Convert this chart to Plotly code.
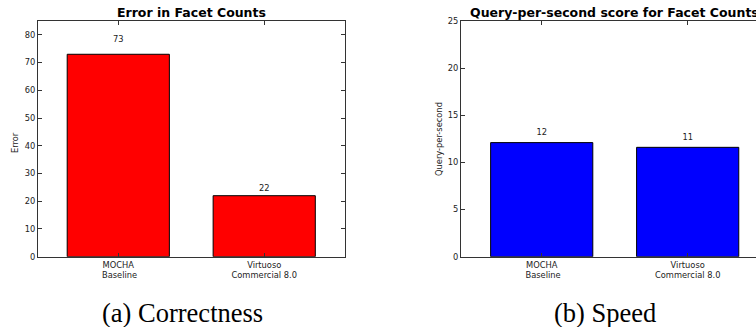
import plotly.graph_objects as go

W, H = 756, 327

categories = ["MOCHA<br> Baseline", "Virtuoso<br>Commercial 8.0"]
error_values = [73, 22]
qps_values = [12.1, 11.6]
error_yticks = [0, 10, 20, 30, 40, 50, 60, 70, 80]
qps_yticks = [0, 5, 10, 15, 20, 25]

# observed rendering maps paper vertically onto pixels ~5..322
TOP_OFF, PAPER_H = 5.0, 317.0

def px_x(p):
    return p / W

def px_y(p):
    return 1 - (p - TOP_OFF) / PAPER_H

FONT = "DejaVu Sans"
SMALL = 8.3
AX = "#333333"
fig = go.Figure()

xs = list(range(len(categories)))

fig.add_trace(go.Bar(x=xs, y=error_values, width=0.7, marker=dict(color="#ff0000", line=dict(color="#000000", width=1)),
                     xaxis="x", yaxis="y", showlegend=False, hoverinfo="skip"))
fig.add_trace(go.Scatter(x=xs, y=[1.05 * v for v in error_values], text=["%d" % int(v) for v in error_values],
                         mode="text", textposition="top center", textfont=dict(family=FONT, size=SMALL, color="#222"),
                         xaxis="x", yaxis="y", showlegend=False, hoverinfo="skip", cliponaxis=False))
fig.add_trace(go.Bar(x=xs, y=qps_values, width=0.7, marker=dict(color="#0000ff", line=dict(color="#000000", width=1)),
                     xaxis="x2", yaxis="y2", showlegend=False, hoverinfo="skip"))
fig.add_trace(go.Scatter(x=xs, y=[1.05 * v for v in qps_values], text=["%d" % int(v) for v in qps_values],
                         mode="text", textposition="top center", textfont=dict(family=FONT, size=SMALL, color="#222"),
                         xaxis="x2", yaxis="y2", showlegend=False, hoverinfo="skip", cliponaxis=False))

ydom = [px_y(256.7), px_y(21)]
common_x = dict(tickmode="array", tickvals=xs, ticktext=categories, ticks="inside", ticklen=4, tickcolor=AX,
                showline=True, linecolor=AX, linewidth=1, showgrid=False, zeroline=False,
                tickfont=dict(family=FONT, size=SMALL, color="#222"))
common_y = dict(ticks="inside", ticklen=4, tickcolor=AX, showline=True, linecolor=AX, linewidth=1,
                showgrid=False, zeroline=False, tickfont=dict(family=FONT, size=SMALL, color="#222"))

fig.update_layout(
    width=W, height=H, margin=dict(l=0, r=0, t=0, b=0),
    paper_bgcolor="white", plot_bgcolor="white",
    xaxis=dict(domain=[px_x(38), px_x(344.5)], range=[-0.55, 1.55], anchor="y", mirror="ticks", **common_x),
    yaxis=dict(domain=ydom, range=[0, 85], tickvals=error_yticks, anchor="x", mirror="ticks", **common_y),
    xaxis2=dict(domain=[px_x(461), 1.0], range=[-0.553, 1.468], anchor="y2", mirror="ticks", **common_x),
    yaxis2=dict(domain=ydom, range=[0, 25], tickvals=qps_yticks, anchor="x2", mirror=False, **common_y),
    annotations=[
        dict(text="<b>Error in Facet Counts</b>", x=px_x(191), y=px_y(13), xref="paper", yref="paper",
             showarrow=False, font=dict(family=FONT, size=12.5, color="#000"), xanchor="center", yanchor="middle"),
        dict(text="<b>Query-per-second score for Facet Counts</b>", x=px_x(614.5), y=px_y(13), xref="paper", yref="paper",
             showarrow=False, font=dict(family=FONT, size=12.5, color="#000"), xanchor="center", yanchor="middle"),
        dict(text="Error", x=px_x(15), y=px_y(143), xref="paper", yref="paper", textangle=-90,
             showarrow=False, font=dict(family=FONT, size=SMALL, color="#222"), xanchor="center", yanchor="middle"),
        dict(text="Query-per-second", x=px_x(439), y=px_y(139), xref="paper", yref="paper", textangle=-90,
             showarrow=False, font=dict(family=FONT, size=SMALL, color="#222"), xanchor="center", yanchor="middle"),
        dict(text="(a) Correctness", x=px_x(182), y=px_y(313), xref="paper", yref="paper",
             showarrow=False, font=dict(family="Liberation Serif", size=26.5, color="#000"), xanchor="center", yanchor="middle"),
        dict(text="(b) Speed", x=px_x(605), y=px_y(313), xref="paper", yref="paper",
             showarrow=False, font=dict(family="Liberation Serif", size=26.5, color="#000"), xanchor="center", yanchor="middle"),
    ],
)

fig.write_html("out.html", config={"displayModeBar": False},
               post_script="document.body.style.margin='0';document.body.style.overflow='hidden';")
